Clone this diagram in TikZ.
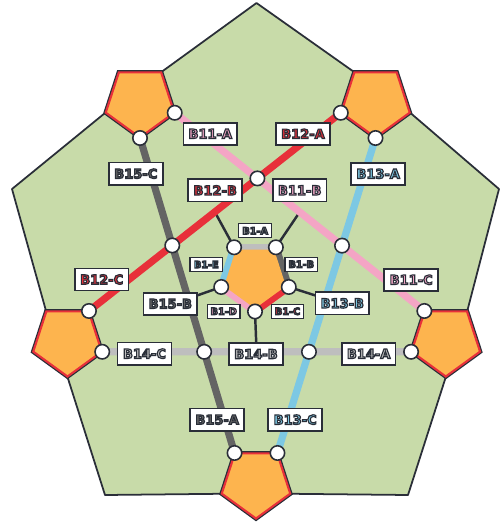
\documentclass[tikz,border=0pt]{standalone}
\usepackage{fontspec}
\setmainfont{DejaVu Sans}
\usetikzlibrary{calc}
\pgfdeclarelayer{Lzero}\pgfdeclarelayer{Lone}\pgfdeclarelayer{Ltwo}
\pgfsetlayers{Lzero,Lone,Ltwo,main}
\definecolor{grn}{HTML}{C8DBA9}
\definecolor{org}{HTML}{FDB44E}
\definecolor{rd}{HTML}{E8303A}
\definecolor{pk}{HTML}{F4A5C5}
\definecolor{bl}{HTML}{7DC8E3}
\definecolor{lg}{HTML}{BEBEBE}
\definecolor{dg}{HTML}{646464}
\definecolor{dk}{HTML}{2A2E38}
\newcommand\olt[2]{{\color{#1}\special{pdf:literal direct 2 Tr 0.65 w 0.16 0.18 0.22 RG}#2\special{pdf:literal direct 0 Tr}}}
\newcommand\pentco[4]{%
 \coordinate (#1-b) at ({#2},{#3+#4});
 \coordinate (#1-r) at ({#2+0.9511*#4},{#3+0.3090*#4});
 \coordinate (#1-tr) at ({#2+0.5878*#4},{#3-0.8090*#4});
 \coordinate (#1-tl) at ({#2-0.5878*#4},{#3-0.8090*#4});
 \coordinate (#1-l) at ({#2-0.9511*#4},{#3+0.3090*#4});}
\newcommand\pp[3]{({#1},{#2+#3}) -- ({#1+0.9511*#3},{#2+0.3090*#3}) -- ({#1+0.5878*#3},{#2-0.8090*#3}) -- ({#1-0.5878*#3},{#2-0.8090*#3}) -- ({#1-0.9511*#3},{#2+0.3090*#3}) -- cycle}
\newcommand\opent[2]{%
 \fill[dk] \pp{#1}{#2}{38.8};
 \filldraw[fill=org, draw=rd, line width=1.2pt] \pp{#1}{#2}{36};}
\tikzset{
 dot/.style={circle, draw=dk, fill=white, line width=0.9pt, minimum size=8.2pt, inner sep=0pt},
 lab/.style={draw=dk, fill=white, line width=0.95pt, minimum width=30.6pt, minimum height=12.6pt, inner sep=0pt, font=\fontsize{7.4}{8}\selectfont\bfseries},
 slab/.style={draw=dk, fill=white, line width=0.7pt, minimum width=18.6pt, minimum height=7.9pt, inner sep=0pt, font=\fontsize{5.5}{6}\selectfont\bfseries},
 bus/.style={line width=4.1pt, line cap=butt},
 conn/.style={draw=dk, line width=1.4pt},
}
\begin{document}
\begin{tikzpicture}[x=0.02cm,y=-0.02cm]
\useasboundingbox (0,0) rectangle (500,524);
% pentagon vertex coordinates
\pentco{TL}{140}{101.5}{36.5}
\pentco{TR}{375.5}{101.5}{36.5}
\pentco{L}{67.5}{340.5}{36.5}
\pentco{R}{445.8}{340.5}{36.5}
\pentco{B}{256}{482.5}{36.5}
\pentco{C}{255}{276}{35.5}
% crossings of the star
\coordinate (pA) at (intersection of TL-r--R-tl and TR-l--L-tr);
\coordinate (pB) at (intersection of TL-r--R-tl and TR-b--B-tr);
\coordinate (pC) at (intersection of TR-b--B-tr and R-l--L-r);
\coordinate (pD) at (intersection of R-l--L-r and TL-b--B-tl);
\coordinate (pE) at (intersection of TL-b--B-tl and TR-l--L-tr);
\coordinate (mAE) at ($(pA)!0.5!(pE)$);
\coordinate (mAB) at ($(pA)!0.5!(pB)$);
\coordinate (mBC) at ($(pB)!0.5!(pC)$);
\coordinate (mCD) at ($(pC)!0.5!(pD)$);
\coordinate (mDE) at ($(pD)!0.5!(pE)$);
% circles
\node[dot] (o11s) at (TL-r) {};
\node[dot] (o15s) at (TL-b) {};
\node[dot] (o12s) at (TR-l) {};
\node[dot] (o13s) at (TR-b) {};
\node[dot] (o11e) at (R-tl) {};
\node[dot] (o14s) at (R-l) {};
\node[dot] (o15e) at (B-tl) {};
\node[dot] (o13e) at (B-tr) {};
\node[dot] (o12e) at (L-tr) {};
\node[dot] (o14e) at (L-r) {};
\node[dot] (xA) at (pA) {};
\node[dot] (xB) at (pB) {};
\node[dot] (xC) at (pC) {};
\node[dot] (xD) at (pD) {};
\node[dot] (xE) at (pE) {};
\node[dot] (cA) at (C-tl) {};
\node[dot] (cB) at (C-tr) {};
\node[dot] (cC) at (C-r) {};
\node[dot] (cD) at (C-b) {};
\node[dot] (cE) at (C-l) {};
% labels
\node[lab] (t11a) at (210.3,133.8) {\olt{pk}{B11-A}};
\node[lab] (t12a) at (303,133.8) {\olt{rd}{B12-A}};
\node[lab] (t15c) at (135.8,173.7) {\olt{dg}{B15-C}};
\node[lab] (t13a) at (378.2,173.8) {\olt{bl}{B13-A}};
\node[lab] (t12b) at (215.2,190.3) {\olt{rd}{B12-B}};
\node[lab] (t11b) at (299.7,190.3) {\olt{pk}{B11-B}};
\node[lab] (t12c) at (101.7,279.5) {\olt{rd}{B12-C}};
\node[lab] (t11c) at (411.2,279.8) {\olt{pk}{B11-C}};
\node[lab] (t15b) at (170.3,303.8) {\olt{dg}{B15-B}};
\node[lab] (t13b) at (342.3,303.3) {\olt{bl}{B13-B}};
\node[lab] (t14c) at (144.5,353.7) {\olt{lg}{B14-C}};
\node[lab] (t14b) at (256,354) {\olt{lg}{B14-B}};
\node[lab] (t14a) at (368.7,353.8) {\olt{lg}{B14-A}};
\node[lab] (t15a) at (217.2,419.7) {\olt{dg}{B15-A}};
\node[lab] (t13c) at (295.2,419.7) {\olt{bl}{B13-C}};
\node[slab] (s1a) at (255.2,230.8) {\olt{lg}{B1-A}};
\node[slab] (s1b) at (301.3,264.2) {\olt{dg}{B1-B}};
\node[slab] (s1c) at (287.5,311.3) {\olt{rd}{B1-C}};
\node[slab] (s1d) at (223.7,311.3) {\olt{pk}{B1-D}};
\node[slab] (s1e) at (206.3,264.5) {\olt{bl}{B1-E}};
% background: big pentagon
\begin{pgfonlayer}{Lzero}
\filldraw[fill=grn, draw=dk, line width=1pt, line join=round]
  (256.5,3) -- (TR-tl) -- (TR-r) -- (499,189) -- (R-tr) -- (R-b) -- (408,495)
  -- (B-r) -- (B-l) -- (105,495) -- (L-b) -- (L-tl) -- (12,189) -- (TL-l) -- (TL-tr) -- cycle;
\end{pgfonlayer}
% lines
\begin{pgfonlayer}{Lone}
\draw[conn] (cA.center) -- (mAE);
\draw[conn] (cB.center) -- (mAB);
\draw[conn] (cC.center) -- (mBC);
\draw[conn] (cD.center) -- (mCD);
\draw[conn] (cE.center) -- (mDE);
\draw[bus, pk] (o11s.center) -- (xA.center) -- (xB.center) -- (o11e.center);
\draw[bus, rd] (o12s.center) -- (xA.center) -- (xE.center) -- (o12e.center);
\draw[bus, bl] (o13s.center) -- (xB.center) -- (xC.center) -- (o13e.center);
\draw[bus, lg] (o14s.center) -- (xC.center) -- (xD.center) -- (o14e.center);
\draw[bus, dg] (o15s.center) -- (xE.center) -- (xD.center) -- (o15e.center);
\draw[bus, lg] (cA.center) -- (cB.center);
\draw[bus, dg] (cB.center) -- (cC.center);
\draw[bus, rd] (cC.center) -- (cD.center);
\draw[bus, pk] (cD.center) -- (cE.center);
\draw[bus, bl] (cE.center) -- (cA.center);
\end{pgfonlayer}
% orange pentagons
\begin{pgfonlayer}{Ltwo}
\fill[org] \pp{255}{276}{32.5};
\opent{140}{101.5}
\opent{375.5}{101.5}
\opent{67.5}{340.5}
\opent{445.8}{340.5}
\opent{256}{482.5}
\end{pgfonlayer}
\end{tikzpicture}
\end{document}
